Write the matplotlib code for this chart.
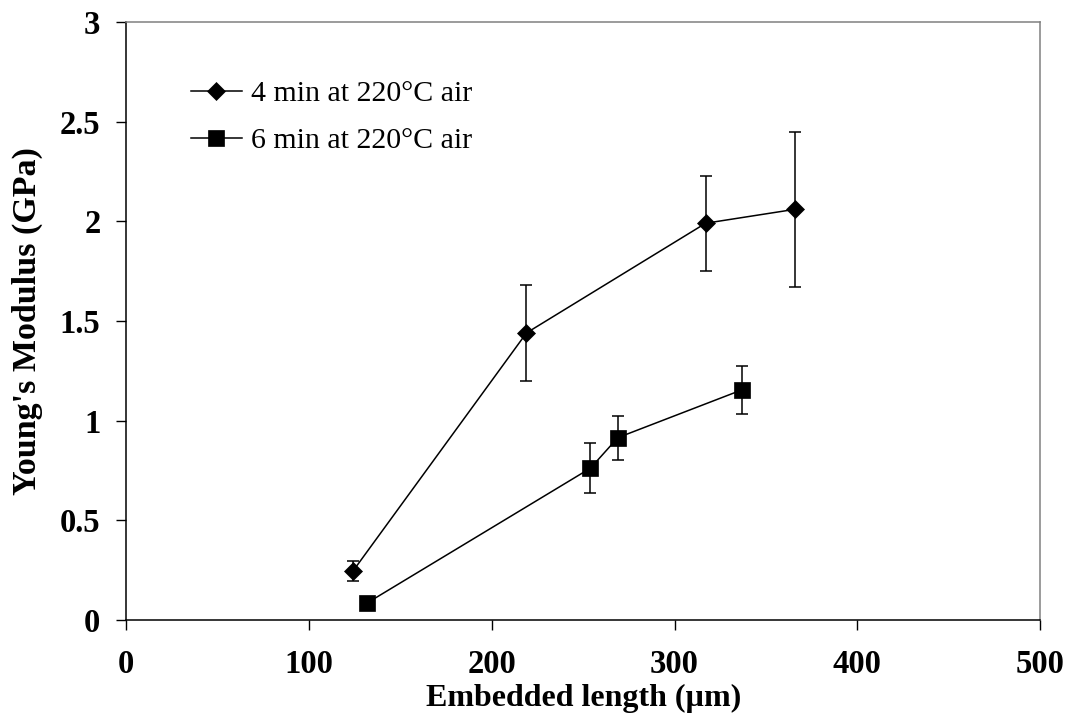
import matplotlib
matplotlib.use('Agg')
import matplotlib.pyplot as plt

# data
len_4min = [124, 219, 317, 366]
mod_4min = [0.245, 1.44, 1.99, 2.06]
err_4min = [0.05, 0.24, 0.237, 0.39]

len_6min = [132, 254, 269, 337]
mod_6min = [0.087, 0.762, 0.915, 1.155]
err_6min = [0.0, 0.127, 0.11, 0.12]

labels = ['4 min at 220°C air', '6 min at 220°C air']
xticks = [0, 100, 200, 300, 400, 500]
yticks = [0, 0.5, 1, 1.5, 2, 2.5, 3]
ytick_labels = ['0', '0.5', '1', '1.5', '2', '2.5', '3']

plt.rcParams['font.family'] = ['Liberation Serif', 'DejaVu Serif']

fig = plt.figure(figsize=(10.69, 7.27), dpi=100)
ax = fig.add_axes([0.118, 0.147, 0.855, 0.823])

ax.errorbar(len_4min, mod_4min, yerr=err_4min, fmt='none', ecolor='black',
            elinewidth=1.1, capsize=4.5, capthick=1.1, zorder=2)
ax.errorbar(len_6min, mod_6min, yerr=err_6min, fmt='none', ecolor='black',
            elinewidth=1.1, capsize=4.5, capthick=1.1, zorder=2)
l1, = ax.plot(len_4min, mod_4min, color='black', lw=1.1, marker='D',
              markersize=9.5, markeredgewidth=0.5, zorder=3)
l2, = ax.plot(len_6min, mod_6min, color='black', lw=1.1, marker='s',
              markersize=12, markeredgewidth=0.5, zorder=3)

ax.set_xlim(0, 500)
ax.set_ylim(0, 3)
ax.set_xticks(xticks)
ax.set_xticklabels([str(t) for t in xticks], fontsize=23.5, fontweight='bold')
ax.set_yticks(yticks)
ax.set_yticklabels(ytick_labels, fontsize=23.5, fontweight='bold')
ax.tick_params(axis='both', direction='out', length=7.5, width=1.0,
               color='black')
ax.tick_params(axis='x', pad=13)
ax.tick_params(axis='y', pad=11)

for s in ['left', 'bottom']:
    ax.spines[s].set_color('black')
    ax.spines[s].set_linewidth(1.1)
for s in ['top', 'right']:
    ax.spines[s].set_color('#808080')
    ax.spines[s].set_linewidth(1.1)

ax.set_xlabel('Embedded length (µm)', fontsize=23, fontweight='bold',
              labelpad=3)
ax.set_ylabel("Young's Modulus (GPa)", fontsize=24.5, fontweight='bold',
              labelpad=12)

ax.legend([l1, l2], labels, loc='upper left', bbox_to_anchor=(0.058, 0.922),
          frameon=False, fontsize=21.5, handlelength=1.7, handletextpad=0.3,
          labelspacing=0.67, borderaxespad=0)

fig.savefig('out.png', dpi=100)
